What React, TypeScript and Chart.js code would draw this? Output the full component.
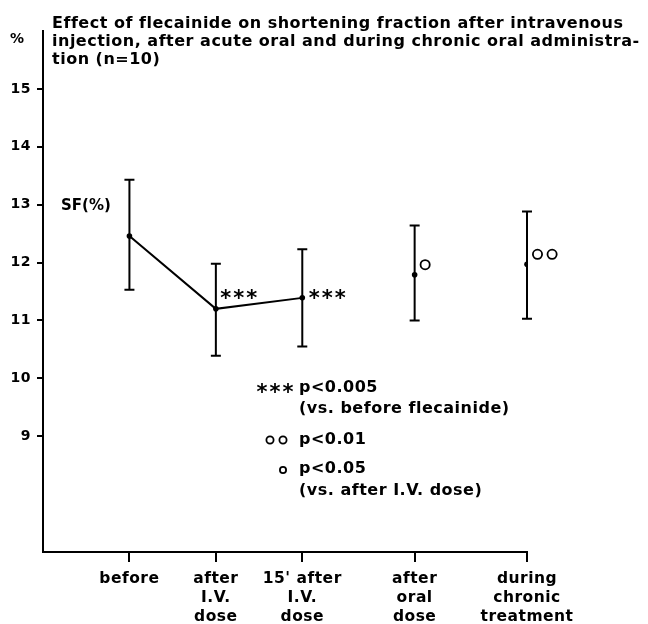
import React, { useEffect, useRef } from "react";
import { Chart, registerables } from "chart.js";

Chart.register(...registerables);

// ---- data ----
const categoryLabels: string[][] = [
  ["before"],
  ["after", "I.V.", "dose"],
  ["15' after", "I.V.", "dose"],
  ["after", "oral", "dose"],
  ["during", "chronic", "treatment"],
];
const categoryX = [1, 2, 3, 4.3, 5.6];
const meanSF = [12.46, 11.2, 11.39, 11.79, 11.97];
const upperSF = [13.43, 11.98, 12.23, 12.64, 12.88];
const lowerSF = [11.53, 10.39, 10.55, 11.0, 11.03];
const connectedCount = 3; // first three points are joined by a line
const yTickValues = [9, 10, 11, 12, 13, 14, 15];
const starMarks = [0, 3, 3, 0, 0]; // *** p<0.005 vs before
const circleMarks = [0, 0, 0, 1, 2]; // o p<0.05, oo p<0.01 vs after I.V.
const titleLines = [
  "Effect of flecainide on shortening fraction after intravenous",
  "injection, after acute oral and during chronic oral administra-",
  "tion (n=10)",
];
const yUnit = "%";
const seriesLabel = "SF(%)";
const legendLines = [
  { sym: "***", text: "p<0.005" },
  { sym: "", text: "(vs. before flecainide)" },
  { sym: "oo", text: "p<0.01" },
  { sym: "o", text: "p<0.05" },
  { sym: "", text: "(vs. after I.V. dose)" },
];

const FONT = "'DejaVu Sans', sans-serif";
const SPACING = "0.5px";

const annotPlugin = {
  id: "annot",
  beforeDraw(chart: any) {
    chart.ctx.letterSpacing = SPACING;
  },
  beforeDatasetsDraw(chart: any) {
    const { ctx, scales } = chart;
    const xs = scales.x;
    const ys = scales.y;
    ctx.save();
    ctx.strokeStyle = "#000";
    ctx.lineWidth = 2;
    for (let i = 0; i < categoryX.length; i++) {
      const x = xs.getPixelForValue(categoryX[i]);
      const yt = ys.getPixelForValue(upperSF[i]);
      const yb = ys.getPixelForValue(lowerSF[i]);
      ctx.beginPath();
      ctx.moveTo(x, yt);
      ctx.lineTo(x, yb);
      ctx.moveTo(x - 5, yt);
      ctx.lineTo(x + 5, yt);
      ctx.moveTo(x - 5, yb);
      ctx.lineTo(x + 5, yb);
      ctx.stroke();
    }
    ctx.restore();
  },
  afterDraw(chart: any) {
    const { ctx, scales } = chart;
    const xs = scales.x;
    const ys = scales.y;
    ctx.save();
    ctx.fillStyle = "#000";
    ctx.strokeStyle = "#000";
    ctx.letterSpacing = SPACING;

    // title
    ctx.font = `bold 16px ${FONT}`;
    ctx.textAlign = "left";
    ctx.textBaseline = "alphabetic";
    const titleBase = [28, 46, 64];
    titleLines.forEach((t, i) => ctx.fillText(t, 52, titleBase[i]));

    // unit
    ctx.font = `bold 14px ${FONT}`;
    ctx.textAlign = "center";
    ctx.textBaseline = "middle";
    ctx.letterSpacing = "0px";
    ctx.fillText(yUnit, 17, 39);

    // series label
    ctx.textAlign = "left";
    ctx.font = `bold 15px ${FONT}`;
    ctx.fillText(seriesLabel, 61, ys.getPixelForValue(13) + 1);

    const drawStars = (left: number, cy: number, n: number) => {
      ctx.font = `bold 21px ${FONT}`;
      ctx.textAlign = "center";
      ctx.textBaseline = "alphabetic";
      ctx.letterSpacing = "0px";
      for (let k = 0; k < n; k++) {
        ctx.fillText("*", left + 5 + k * 13, cy + 11);
      }
    };
    const drawCircle = (cx: number, cy: number, r: number) => {
      ctx.beginPath();
      ctx.lineWidth = 1.8;
      ctx.arc(cx, cy, r, 0, Math.PI * 2);
      ctx.stroke();
    };

    // significance marks near points
    const starOffsets = [0, 5, 7, 0, 0];
    for (let i = 0; i < categoryX.length; i++) {
      const px = xs.getPixelForValue(categoryX[i]);
      const py = ys.getPixelForValue(meanSF[i]);
      if (starMarks[i]) {
        drawStars(px + starOffsets[i], ys.getPixelForValue(11.45), starMarks[i]);
      }
      for (let k = 0; k < circleMarks[i]; k++) {
        drawCircle(px + 10.5 + k * 14.6, py - 10, 4.6);
      }
    }

    // legend block
    const lx = 299;
    const ly = [388, 409, 440, 469, 491];
    legendLines.forEach((l, i) => {
      ctx.font = `bold 16px ${FONT}`;
      ctx.letterSpacing = SPACING;
      ctx.textAlign = "left";
      ctx.textBaseline = "middle";
      ctx.fillText(l.text, lx, ly[i]);
      if (l.sym === "***") drawStars(257, ly[i], 3);
      if (l.sym === "oo") {
        drawCircle(270, ly[i], 3.6);
        drawCircle(283, ly[i], 3.6);
      }
      if (l.sym === "o") drawCircle(283, ly[i] + 1, 3.1);
    });
    ctx.restore();
  },
};

export default function App() {
  const ref = useRef<HTMLCanvasElement | null>(null);
  useEffect(() => {
    if (!ref.current) return;
    const pts = categoryX.map((x, i) => ({ x, y: meanSF[i] }));
    const chart = new Chart(ref.current, {
      type: "line",
      data: {
        datasets: [
          {
            data: pts.slice(0, connectedCount),
            borderColor: "#000",
            borderWidth: 2,
            pointRadius: 2.8,
            pointBackgroundColor: "#000",
            pointBorderWidth: 0,
            tension: 0,
          },
          {
            data: pts.slice(connectedCount),
            showLine: false,
            borderColor: "#000",
            pointRadius: 2.8,
            pointBackgroundColor: "#000",
            pointBorderWidth: 0,
          },
        ],
      },
      options: {
        responsive: false,
        animation: false,
        layout: { padding: { top: 31, right: 121, left: 0, bottom: 0 } },
        plugins: { legend: { display: false }, tooltip: { enabled: false }, title: { display: false } },
        scales: {
          x: {
            type: "linear",
            min: 0,
            max: 5.6,
            afterBuildTicks: (s: any) => {
              s.ticks = categoryX.map((v) => ({ value: v }));
            },
            afterFit: (s: any) => {
              s.height = 72;
            },
            grid: { drawOnChartArea: false, drawTicks: true, tickLength: 10, color: "#000", lineWidth: 2 },
            border: { display: true, color: "#000", width: 2 },
            ticks: {
              autoSkip: false,
              maxRotation: 0,
              padding: 8,
              color: "#000",
              font: { family: FONT, size: 15.5, weight: "bold", lineHeight: 1.22 },
              callback: (v: any) => {
                const i = categoryX.indexOf(Number(v));
                return i >= 0 ? categoryLabels[i] : "";
              },
            },
          },
          y: {
            type: "linear",
            min: 7,
            max: 16,
            afterBuildTicks: (s: any) => {
              s.ticks = yTickValues.map((v) => ({ value: v }));
            },
            afterFit: (s: any) => {
              s.width = 43;
            },
            grid: { drawOnChartArea: false, drawTicks: true, tickLength: 6, color: "#000", lineWidth: 2 },
            border: { display: true, color: "#000", width: 2 },
            ticks: {
              padding: 6,
              color: "#000",
              font: { family: FONT, size: 14, weight: "bold" },
              callback: (v: any) => String(v),
            },
          },
        },
      },
      plugins: [annotPlugin],
    } as any);
    return () => chart.destroy();
  }, []);
  return (
    <div style={{ position: "absolute", left: 0, top: 0, width: 648, height: 624, background: "#fff" }}>
      <canvas ref={ref} width={648} height={624} style={{ display: "block" }} />
    </div>
  );
}
